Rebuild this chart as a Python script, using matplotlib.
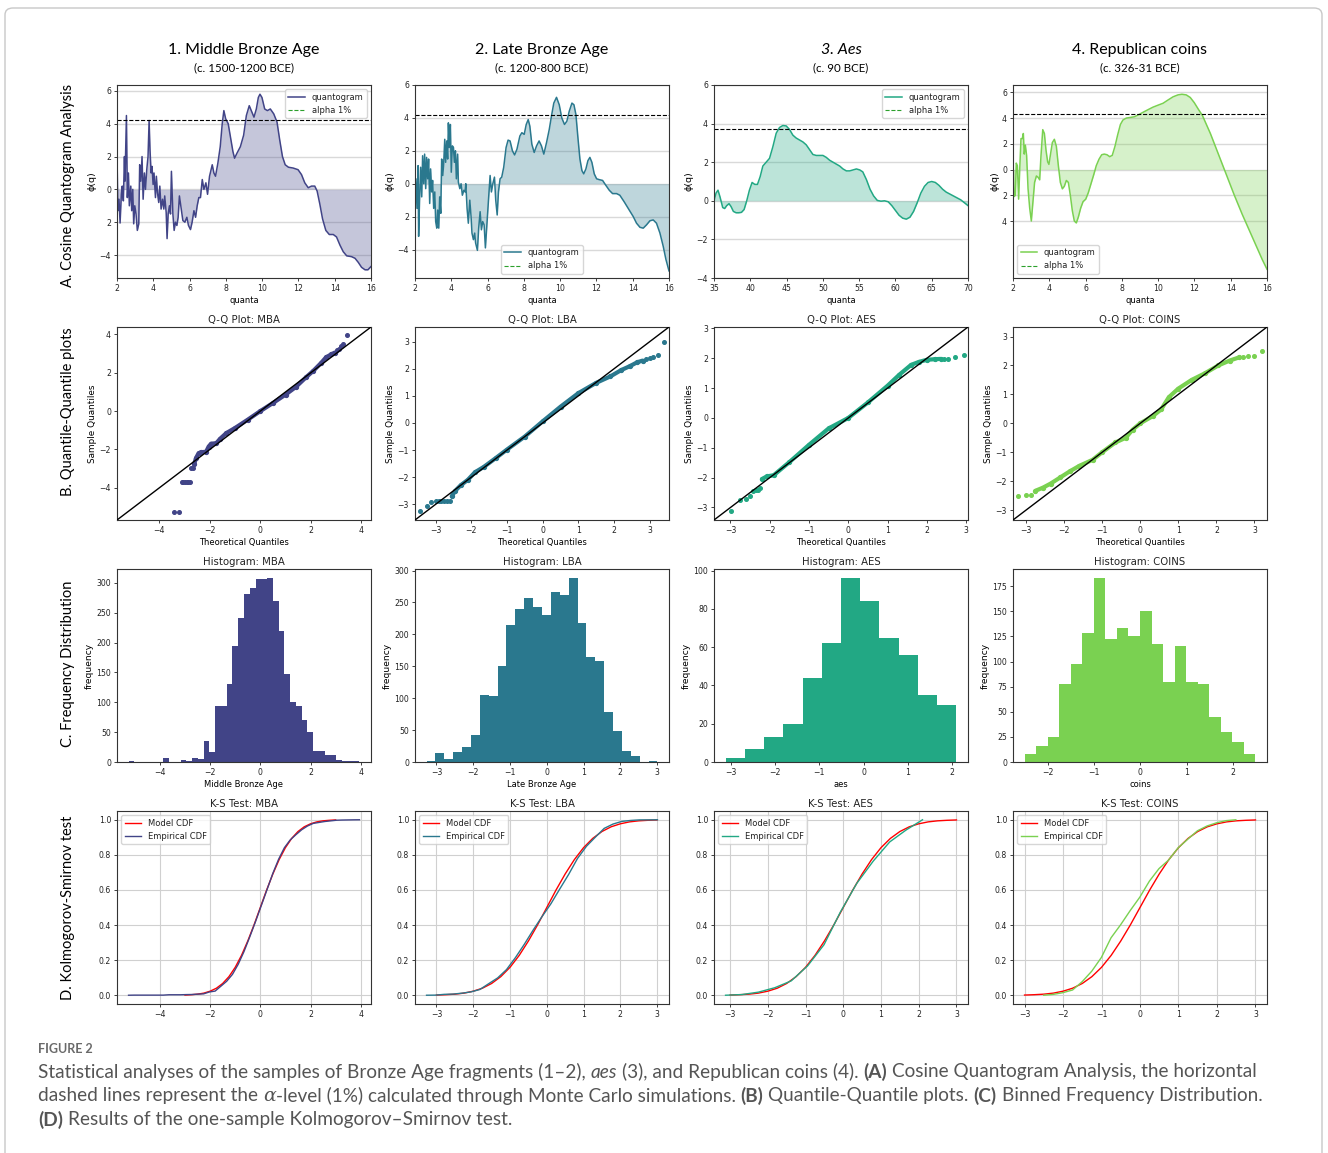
import numpy as np
import matplotlib
matplotlib.use("Agg")
import matplotlib.pyplot as plt
from matplotlib.lines import Line2D
from matplotlib.patches import FancyBboxPatch

W, H = 1328, 1153

# ---------------- data ----------------
colors = ["#414487", "#2a788e", "#22a884", "#7ad151"]
short = ["MBA", "LBA", "AES", "COINS"]
titles = ["1. Middle Bronze Age", "2. Late Bronze Age", "3. Aes", "4. Republican coins"]
subtitles = ["(c. 1500-1200 BCE)", "(c. 1200-800 BCE)", "(c. 90 BCE)", "(c. 326-31 BCE)"]
hist_xlabels = ["Middle Bronze Age", "Late Bronze Age", "aes", "coins"]
row_labels = ["A. Cosine Quantogram Analysis", "B. Quantile-Quantile plots",
              "C. Frequency Distribution", "D. Kolmogorov-Smirnov test"]

# quantogram curves (quanta, phi(q))
mba_curve = [(2.0, 2.1), (2.05, -1.3), (2.11, -0.6), (2.17, -2.05), (2.24, -0.3), (2.29, 0.2),
             (2.35, -0.7), (2.41, 2.0), (2.44, 0.5), (2.52, 4.5), (2.57, -0.5), (2.63, 1.0),
             (2.68, -1.0), (2.76, 0.2), (2.81, -1.3), (2.87, 0.0), (2.92, -2.1), (2.98, -1.0),
             (3.05, -1.5), (3.12, -2.5), (3.2, -2.1), (3.25, 1.5), (3.31, 0.5), (3.38, 2.0),
             (3.44, -0.6), (3.51, 1.0), (3.57, 0.0), (3.64, 1.2), (3.71, 2.0), (3.77, 4.2),
             (3.82, 2.4), (3.88, 1.0), (3.93, 1.4), (3.99, 0.3), (4.04, 1.0), (4.12, -0.5),
             (4.17, 0.8), (4.23, -0.2), (4.3, -0.8), (4.36, 0.2), (4.43, -1.2), (4.51, -0.6),
             (4.58, -1.2), (4.63, -0.4), (4.71, -1.4), (4.76, -3.0), (4.82, -1.5), (4.89, -1.0),
             (4.95, -1.5), (5.0, 1.1), (5.08, -1.5), (5.15, -2.5), (5.22, -2.0), (5.3, -2.2),
             (5.37, -1.7), (5.44, -0.4), (5.54, -1.2), (5.63, -1.9), (5.74, -2.0), (5.85, -1.7),
             (5.94, -2.2), (6.05, -2.45), (6.14, -2.0), (6.24, -1.3), (6.33, -1.7), (6.42, -1.0),
             (6.51, -0.5), (6.6, -0.5), (6.7, 0.6), (6.79, 0.0), (6.9, 0.4), (6.99, -0.3),
             (7.1, 0.8), (7.25, 1.5), (7.34, 1.0), (7.43, 0.8), (7.56, 1.6), (7.69, 2.6),
             (7.8, 4.0), (7.89, 4.8), (7.99, 4.3), (8.13, 4.0), (8.28, 3.0), (8.39, 2.3),
             (8.48, 1.9), (8.61, 2.2), (8.8, 2.6), (8.98, 3.3), (9.13, 4.5), (9.29, 5.1),
             (9.4, 4.8), (9.55, 4.4), (9.68, 4.9), (9.79, 5.6), (9.88, 5.8), (9.99, 5.6),
             (10.14, 4.9), (10.29, 4.8), (10.45, 4.9), (10.64, 4.6), (10.82, 4.1), (10.97, 3.0),
             (11.12, 2.0), (11.27, 1.5), (11.45, 1.35), (11.71, 1.3), (11.98, 1.2), (12.17, 0.9),
             (12.35, 0.4), (12.54, 0.1), (12.72, 0.2), (12.9, 0.2), (13.03, -0.1), (13.18, -0.9),
             (13.33, -1.8), (13.51, -2.5), (13.7, -2.75), (13.92, -2.75), (14.1, -2.9),
             (14.29, -3.4), (14.47, -3.8), (14.66, -4.05), (14.93, -4.1), (15.12, -4.2),
             (15.3, -4.45), (15.48, -4.75), (15.67, -4.9), (15.83, -4.9), (16.0, -4.7)]

lba_curve = [(2.0, -1.0), (2.05, 0.3), (2.11, -1.5), (2.17, 1.1), (2.2, -3.2), (2.26, -0.6),
             (2.31, 1.0), (2.37, -0.8), (2.42, 1.7), (2.48, 0.0), (2.53, 1.8), (2.59, -0.3),
             (2.64, 1.6), (2.7, 0.3), (2.75, 1.5), (2.81, -1.2), (2.86, 0.9), (2.92, -0.5),
             (2.97, 0.2), (3.03, -1.5), (3.09, -0.5), (3.14, -2.3), (3.2, -2.7), (3.25, -1.6),
             (3.31, -2.7), (3.36, -0.8), (3.42, -1.8), (3.47, 1.5), (3.53, 0.5), (3.58, 1.2),
             (3.64, 2.7), (3.69, 1.3), (3.75, 2.6), (3.8, 1.5), (3.84, 3.7), (3.89, 2.2),
             (3.95, 3.6), (4.0, 0.7), (4.06, 2.3), (4.12, 2.2), (4.17, 1.3), (4.23, 2.0),
             (4.28, 0.3), (4.35, 1.8), (4.39, 0.1), (4.47, -0.3), (4.54, 0.0), (4.61, -0.7),
             (4.69, -0.4), (4.76, -0.5), (4.8, 0.0), (4.87, -1.5), (4.94, -2.4), (5.02, -1.0),
             (5.09, -2.0), (5.14, -3.0), (5.22, -3.4), (5.29, -3.0), (5.34, -3.6), (5.44, -4.05),
             (5.51, -2.7), (5.59, -1.7), (5.66, -2.8), (5.73, -2.3), (5.81, -2.5), (5.88, -3.9),
             (5.96, -2.5), (6.05, -1.0), (6.14, 0.5), (6.21, -0.5), (6.29, 0.0), (6.38, 0.4),
             (6.45, -1.0), (6.53, -1.9), (6.6, -0.5), (6.69, 0.3), (6.78, 0.4), (6.89, 1.0),
             (7.02, 2.2), (7.13, 2.65), (7.24, 2.6), (7.37, 2.0), (7.49, 1.75), (7.62, 2.1),
             (7.78, 2.9), (7.89, 3.1), (8.02, 3.0), (8.13, 3.6), (8.24, 3.9), (8.33, 3.5),
             (8.44, 2.4), (8.57, 1.9), (8.7, 2.3), (8.84, 2.6), (8.97, 2.3), (9.1, 1.8),
             (9.25, 2.5), (9.4, 3.3), (9.52, 4.1), (9.65, 4.9), (9.8, 5.25), (9.95, 4.8),
             (10.09, 4.0), (10.24, 3.6), (10.37, 3.8), (10.5, 4.4), (10.65, 4.9), (10.76, 4.8),
             (10.87, 4.2), (10.98, 2.8), (11.09, 1.5), (11.2, 0.8), (11.3, 0.6), (11.42, 0.9),
             (11.53, 1.4), (11.64, 1.6), (11.75, 1.3), (11.88, 0.6), (12.01, 0.3), (12.15, 0.25),
             (12.34, 0.2), (12.52, -0.1), (12.71, -0.4), (12.89, -0.6), (13.11, -0.6),
             (13.29, -0.7), (13.53, -1.1), (13.81, -1.6), (14.03, -2.0), (14.21, -2.4),
             (14.4, -2.65), (14.58, -2.7), (14.76, -2.5), (14.95, -2.25), (15.13, -2.2),
             (15.31, -2.4), (15.5, -3.0), (15.68, -3.8), (15.83, -4.6), (16.0, -5.3)]

aes_curve = [(35.0, 0.0), (35.28, 0.4), (35.55, 0.55), (35.83, 0.2), (36.2, -0.35), (36.47, -0.4),
             (36.75, -0.25), (37.07, -0.15), (37.35, -0.3), (37.67, -0.55), (38.04, -0.62),
             (38.41, -0.62), (38.78, -0.6), (39.15, -0.45), (39.51, 0.0), (39.88, 0.55),
             (40.25, 0.95), (40.62, 0.85), (40.99, 0.85), (41.36, 1.25), (41.73, 1.8), (42.19, 2.0),
             (42.65, 2.2), (43.11, 2.8), (43.57, 3.5), (44.03, 3.8), (44.49, 3.9), (44.95, 3.88),
             (45.4, 3.7), (45.87, 3.4), (46.33, 3.25), (46.79, 3.15), (47.25, 3.05), (47.71, 2.9),
             (48.17, 2.65), (48.63, 2.4), (49.09, 2.35), (49.55, 2.35), (50.01, 2.35), (50.47, 2.25),
             (50.94, 2.1), (51.4, 2.0), (51.86, 1.9), (52.32, 1.8), (52.78, 1.65), (53.24, 1.55),
             (53.7, 1.55), (54.16, 1.6), (54.62, 1.65), (55.08, 1.6), (55.5, 1.5), (56.0, 1.1),
             (56.5, 0.6), (57.0, 0.25), (57.5, 0.02), (58.0, -0.02), (58.5, 0.0), (59.0, -0.05),
             (59.5, -0.25), (60.0, -0.5), (60.5, -0.75), (61.0, -0.9), (61.5, -0.95), (62.0, -0.85),
             (62.5, -0.55), (63.0, -0.1), (63.5, 0.4), (64.0, 0.75), (64.5, 0.95), (65.0, 1.0),
             (65.5, 0.95), (66.0, 0.8), (66.5, 0.6), (67.0, 0.45), (67.5, 0.35), (68.0, 0.25),
             (68.5, 0.15), (69.0, 0.05), (69.5, -0.1), (70.0, -0.25)]

coins_curve = [(2.0, 0.8), (2.06, -2.1), (2.13, -2.0), (2.18, 0.5), (2.24, 0.3), (2.31, -2.3),
               (2.37, 0.0), (2.44, 2.4), (2.51, 2.4), (2.57, 2.8), (2.62, 1.2), (2.68, 1.9),
               (2.75, 1.1), (2.83, -1.5), (2.92, -3.0), (3.01, -4.0), (3.1, -2.5), (3.19, -1.0),
               (3.29, -0.5), (3.38, -0.6), (3.47, -0.8), (3.54, 1.0), (3.64, 3.1), (3.73, 2.8),
               (3.82, 1.5), (3.91, 0.6), (3.98, 0.4), (4.08, 1.3), (4.17, 2.1), (4.28, 2.35),
               (4.39, 1.8), (4.5, 0.3), (4.61, -1.0), (4.72, -1.5), (4.83, -1.3), (4.94, -0.85),
               (5.05, -1.0), (5.16, -2.0), (5.27, -3.2), (5.38, -4.0), (5.49, -4.15), (5.6, -3.7),
               (5.73, -3.0), (5.86, -2.5), (6.01, -2.3), (6.15, -1.8), (6.3, -1.1), (6.45, -0.4),
               (6.59, 0.3), (6.74, 0.8), (6.89, 1.15), (7.03, 1.2), (7.18, 1.15), (7.33, 1.0),
               (7.47, 1.1), (7.62, 1.8), (7.77, 2.7), (7.92, 3.5), (8.06, 3.85), (8.25, 4.0),
               (8.47, 4.05), (8.69, 4.1), (8.91, 4.25), (9.17, 4.45), (9.44, 4.65), (9.72, 4.85),
               (9.99, 5.0), (10.27, 5.15), (10.54, 5.4), (10.82, 5.65), (11.09, 5.8), (11.31, 5.85),
               (11.55, 5.8), (11.77, 5.6), (11.99, 5.2), (12.21, 4.7), (12.44, 4.2), (12.66, 3.5),
               (12.88, 2.8), (13.1, 2.0), (13.32, 1.2), (13.54, 0.4), (13.76, -0.4), (13.98, -1.2),
               (14.2, -2.0), (14.42, -2.75), (14.64, -3.5), (14.86, -4.2), (15.08, -4.9),
               (15.3, -5.6), (15.52, -6.3), (15.74, -7.0), (16.0, -7.75)]

quant_curves = [mba_curve, lba_curve, aes_curve, coins_curve]
alpha_levels = [4.22, 4.15, 3.7, 4.35]
quanta_lims = [(2, 16), (2, 16), (35, 70), (2, 16)]
quanta_ticks = [range(2, 17, 2), range(2, 17, 2), range(35, 71, 5), range(2, 17, 2)]
phi_lims = [(-5.4, 6.36), (-5.73, 6.0), (-4.0, 6.0), (-8.43, 6.57)]
phi_ticks = [[-4, -2, 0, 2, 4, 6], [-4, -2, 0, 2, 4, 6], [-4, -2, 0, 2, 4, 6], [-4, -2, 0, 2, 4, 6]]
phi_ticklabels = [["\u22124", "2", "0", "2", "4", "6"], ["\u22124", "2", "0", "2", "4", "6"],
                  ["\u22124", "\u22122", "0", "2", "4", "6"], ["4", "2", "0", "2", "4", "6"]]
legend_locs = ["upper right", "lower center", "upper right", "lower left"]

# Q-Q plots: dense band (theoretical, sample) and isolated tail points
qq_band = [
    [(-2.62, -2.75), (-2.55, -2.45), (-2.45, -2.2), (-2.35, -2.15), (-2.15, -2.12), (-2.05, -1.85),
     (-1.95, -1.7), (-1.75, -1.68), (-1.6, -1.45), (-1.35, -1.15), (-1.0, -0.88), (-0.5, -0.45),
     (0.0, 0.0), (0.5, 0.42), (1.0, 0.86), (1.4, 1.25), (1.8, 1.75), (2.1, 2.1), (2.4, 2.5),
     (2.6, 2.8), (2.8, 2.95), (2.95, 3.05)],
    [(-2.55, -2.7), (-2.45, -2.5), (-2.3, -2.3), (-2.1, -2.1), (-1.9, -1.82), (-1.65, -1.62),
     (-1.3, -1.28), (-1.0, -0.98), (-0.5, -0.5), (0.0, 0.06), (0.5, 0.6), (1.0, 1.1), (1.5, 1.48),
     (1.9, 1.72), (2.2, 1.95), (2.45, 2.1), (2.65, 2.24), (2.8, 2.3)],
    [(-2.2, -2.05), (-2.08, -1.96), (-1.9, -1.92), (-1.5, -1.48), (-1.0, -0.9), (-0.5, -0.35),
     (0.0, 0.0), (0.5, 0.52), (1.0, 1.08), (1.3, 1.45), (1.6, 1.78), (1.8, 1.88), (2.0, 1.95),
     (2.2, 1.97), (2.35, 1.98)],
    [(-2.75, -2.33), (-2.55, -2.22), (-2.35, -2.08), (-2.1, -1.87), (-1.85, -1.66), (-1.6, -1.47),
     (-1.25, -1.26), (-1.0, -1.0), (-0.65, -0.66), (-0.38, -0.5), (-0.2, -0.22), (0.0, 0.0),
     (0.33, 0.25), (0.55, 0.48), (0.75, 0.9), (1.0, 1.2), (1.35, 1.5), (1.7, 1.73), (2.05, 2.0),
     (2.35, 2.17), (2.6, 2.28)],
]
qq_tails = [
    [(-3.43, -5.25), (-3.22, -5.25), (-3.12, -3.7), (-3.05, -3.7), (-2.98, -3.7), (-2.92, -3.7),
     (-2.86, -3.7), (-2.8, -3.7), (-2.74, -2.97), (-2.68, -2.97), (3.05, 3.2), (3.12, 3.25),
     (3.2, 3.4), (3.28, 3.48), (3.43, 3.95)],
    [(-3.44, -3.24), (-3.24, -3.06), (-3.12, -2.93), (-3.0, -2.88), (-2.92, -2.88), (-2.84, -2.88),
     (-2.76, -2.88), (-2.68, -2.88), (-2.6, -2.88), (2.9, 2.35), (3.0, 2.4), (3.1, 2.43),
     (3.24, 2.52), (3.41, 2.98)],
    [(-2.98, -3.12), (-2.77, -2.74), (-2.61, -2.72), (-2.51, -2.62), (-2.42, -2.45), (-2.36, -2.43),
     (-2.3, -2.42), (-2.25, -2.35), (2.45, 1.98), (2.55, 1.98), (2.73, 2.03), (2.95, 2.1)],
    [(-3.21, -2.5), (-2.99, -2.47), (-2.86, -2.46), (2.7, 2.31), (2.83, 2.34), (2.98, 2.34),
     (3.19, 2.49)],
]
qq_lims = [(-5.68, 4.38), (-3.58, 3.54), (-3.42, 3.05), (-3.34, 3.33)]
qq_ticks = [[-4, -2, 0, 2, 4], [-3, -2, -1, 0, 1, 2, 3], [-3, -2, -1, 0, 1, 2, 3], [-3, -2, -1, 0, 1, 2, 3]]

# histograms: data range and counts per equal-width bin
hist_ranges = [(-5.25, 3.95), (-3.27, 3.01), (-3.12, 2.10), (-2.50, 2.49)]
mba_counts = [2, 0, 0, 0, 0, 0, 7, 0, 0, 3, 2, 7, 5, 36, 17, 94, 94, 131, 194, 242, 281, 292, 307,
              306, 308, 269, 220, 148, 101, 94, 71, 50, 18, 18, 12, 12, 4, 2, 2, 1]
lba_counts = [2, 14, 5, 16, 23, 43, 105, 103, 150, 214, 240, 257, 243, 231, 267, 262, 288, 218,
              164, 159, 78, 48, 17, 10, 0, 2]
aes_counts = [2, 7, 13, 20, 44, 62, 96, 84, 65, 56, 35, 30]
coins_counts = [8, 16, 25, 78, 98, 128, 183, 122, 133, 125, 150, 117, 80, 115, 80, 78, 45, 30, 20, 8]
hist_counts = [mba_counts, lba_counts, aes_counts, coins_counts]
hist_xticks = [[-4, -2, 0, 2, 4], [-3, -2, -1, 0, 1, 2, 3], [-3, -2, -1, 0, 1, 2], [-2, -1, 0, 1, 2]]
hist_yticks = [range(0, 301, 50), range(0, 301, 50), range(0, 101, 20), range(0, 176, 25)]

# K-S: model CDF
model_x = [-3.0, -2.75, -2.5, -2.25, -2.0, -1.75, -1.5, -1.25, -1.0, -0.75, -0.5, -0.25, 0.0,
           0.25, 0.5, 0.75, 1.0, 1.25, 1.5, 1.75, 2.0, 2.25, 2.5, 2.75, 3.0]
model_cdf = [0.001, 0.003, 0.006, 0.012, 0.023, 0.040, 0.067, 0.106, 0.159, 0.227, 0.309, 0.401, 0.5,
             0.599, 0.691, 0.773, 0.841, 0.894, 0.933, 0.960, 0.977, 0.988, 0.994, 0.997, 0.999]
ks_xticks = [[-4, -2, 0, 2, 4], [-3, -2, -1, 0, 1, 2, 3], [-3, -2, -1, 0, 1, 2, 3], [-3, -2, -1, 0, 1, 2, 3]]

# ---------------- figure ----------------
plt.rcParams.update({
    "font.family": "DejaVu Sans",
    "xtick.labelsize": 5.6, "ytick.labelsize": 5.6,
    "axes.labelsize": 6, "axes.titlesize": 7.3, "legend.fontsize": 6,
    "xtick.major.size": 2.5, "ytick.major.size": 2.5,
    "xtick.major.width": 0.6, "ytick.major.width": 0.6,
    "xtick.major.pad": 1.8, "ytick.major.pad": 1.8,
    "axes.labelpad": 2, "axes.titlepad": 3,
    "axes.linewidth": 0.8, "axes.edgecolor": "#333333",
    "text.color": "#222222", "xtick.color": "#222222", "ytick.color": "#222222",
})

fig = plt.figure(figsize=(W / 100, H / 100), dpi=100)

col_x = [117, 415, 714, 1013]
row_y = [85, 327, 569, 811]
AW, AH = 254, 193


def add_ax(x0, y0):
    return fig.add_axes([x0 / W, 1 - (y0 + AH) / H, AW / W, AH / H])


title_font = "Lato"
for i in range(4):
    cx = (col_x[i] + AW / 2) / W
    fig.text(cx, 1 - 50 / H, titles[i], ha="center", va="center", fontsize=11.5,
             family=title_font, style="italic" if i == 2 else "normal", color="black")
    fig.text(cx, 1 - 68 / H, subtitles[i], ha="center", va="center", fontsize=8.3,
             family=title_font, color="black")

for yc, lab in zip([185, 412, 664, 908], row_labels):
    fig.text(68 / W, 1 - yc / H, lab, rotation=90, ha="center", va="center",
             fontsize=10.5, family=title_font, color="black")

for i in range(4):
    c = colors[i]

    # A. quantograms
    ax = add_ax(col_x[i], row_y[0])
    q, phi = zip(*quant_curves[i])
    ax.fill_between(q, phi, 0, color=c, alpha=0.3, lw=0)
    ax.plot(q, phi, color=c, lw=1.1)
    ax.axhline(alpha_levels[i], color="black", ls="--", lw=0.8)
    ax.set_xlim(quanta_lims[i])
    ax.set_ylim(phi_lims[i])
    ax.set_xticks(list(quanta_ticks[i]))
    ax.set_yticks(phi_ticks[i])
    ax.set_yticklabels(phi_ticklabels[i])
    ax.grid(axis="y", color="#d9d9d9", lw=1.0)
    ax.set_axisbelow(True)
    handles = [Line2D([], [], color=c, lw=1.1), Line2D([], [], color="#2ca02c", ls="--", lw=0.8)]
    ax.legend(handles, ["quantogram", "alpha 1%"], loc=legend_locs[i])
    ax.set_xlabel("quanta")
    ax.set_ylabel("\u03d5(q)", fontsize=6.8)

    # B. Q-Q plots
    ax = add_ax(col_x[i], row_y[1])
    lo, hi = qq_lims[i]
    ax.plot([lo, hi], [lo, hi], color="black", lw=1.0, zorder=3)
    bx, by = zip(*qq_band[i])
    ax.plot(bx, by, color=c, lw=3.0, marker="o", ms=2.8, solid_capstyle="round", zorder=2)
    tx, ty = zip(*qq_tails[i])
    ax.plot(tx, ty, "o", color=c, ms=2.6, ls="none", zorder=2)
    ax.set_xlim(lo, hi)
    ax.set_ylim(lo, hi)
    ax.set_xticks(qq_ticks[i])
    ax.set_yticks(qq_ticks[i])
    ax.set_title("Q-Q Plot: " + short[i])
    ax.set_xlabel("Theoretical Quantiles")
    ax.set_ylabel("Sample Quantiles", fontsize=6.4)

    # C. histograms
    ax = add_ax(col_x[i], row_y[2])
    counts = hist_counts[i]
    edges = np.linspace(hist_ranges[i][0], hist_ranges[i][1], len(counts) + 1)
    ax.stairs(counts, edges, fill=True, color=c)
    ax.set_xticks(hist_xticks[i])
    ax.set_yticks(list(hist_yticks[i]))
    ax.set_title("Histogram: " + short[i])
    ax.set_xlabel(hist_xlabels[i])
    ax.set_ylabel("frequency", fontsize=6.6)

    # D. K-S test
    ax = add_ax(col_x[i], row_y[3])
    ecdf = np.concatenate([[0], np.cumsum(counts)]) / np.sum(counts)
    ax.plot(model_x, model_cdf, color="red", lw=1.0, label="Model CDF")
    ax.plot(edges, ecdf, color=c, lw=1.0, label="Empirical CDF")
    ax.set_xticks(ks_xticks[i])
    ax.set_yticks([0, 0.2, 0.4, 0.6, 0.8, 1.0])
    ax.grid(True, color="#d0d0d0", lw=0.8)
    ax.set_axisbelow(True)
    ax.set_title("K-S Test: " + short[i])
    ax.legend(loc="upper left")

# ---------------- frame and caption ----------------
fig.patches.append(FancyBboxPatch((5 / W, -0.05), 1317 / W, 1 - 8 / H + 0.05,
                                  boxstyle="round,pad=0,rounding_size=0.006",
                                  transform=fig.transFigure, fc="none", ec="#c8c8c8", lw=1.0))

cap_font = "Lato"
cap_color = "#555555"
renderer = fig.canvas.get_renderer()


def put_runs(x, y, runs, size):
    p1 = fig.text(0, 0, "n n", fontsize=size, family=cap_font)
    p2 = fig.text(0, 0, "nn", fontsize=size, family=cap_font)
    space = p1.get_window_extent(renderer).width - p2.get_window_extent(renderer).width
    p1.remove()
    p2.remove()
    texts = []
    for txt, style, gap in runs:
        if gap:
            x += space
        t = fig.text(x / W, 1 - y / H, txt, fontsize=size, color=cap_color, va="center", ha="left",
                     family="DejaVu Serif" if style == "m" else cap_font,
                     fontweight="bold" if style == "b" else "normal",
                     fontstyle="italic" if style in ("i", "m") else "normal")
        texts.append(t)
        x += t.get_window_extent(renderer).width
    return texts, x


line1 = [("Statistical analyses of the samples of Bronze Age fragments (1\u20132),", "n", False),
         ("aes", "i", True), ("(3), and Republican coins (4).", "n", True), ("(A)", "b", True),
         ("Cosine Quantogram Analysis, the horizontal", "n", True)]
line2 = [("dashed lines represent the", "n", False), ("\u03b1", "m", True),
         ("-level (1%) calculated through Monte Carlo simulations.", "n", False), ("(B)", "b", True),
         ("Quantile-Quantile plots.", "n", True), ("(C)", "b", True),
         ("Binned Frequency Distribution.", "n", True)]
line3 = [("(D)", "b", False), ("Results of the one-sample Kolmogorov\u2013Smirnov test.", "n", True)]

probe, end = put_runs(38, 1072, line1, 12)
for t in probe:
    t.remove()
cap_size = 12 * (1250 - 38) / (end - 38)

fig.text(38 / W, 1 - 1049 / H, "FIGURE 2", fontsize=9, color="#6a6a6a", family=cap_font,
         fontweight="bold", va="center", ha="left")
put_runs(38, 1072, line1, cap_size)
put_runs(38, 1096, line2, cap_size)
put_runs(38, 1120, line3, cap_size)

fig.savefig("out.png", dpi=100, facecolor="white")
